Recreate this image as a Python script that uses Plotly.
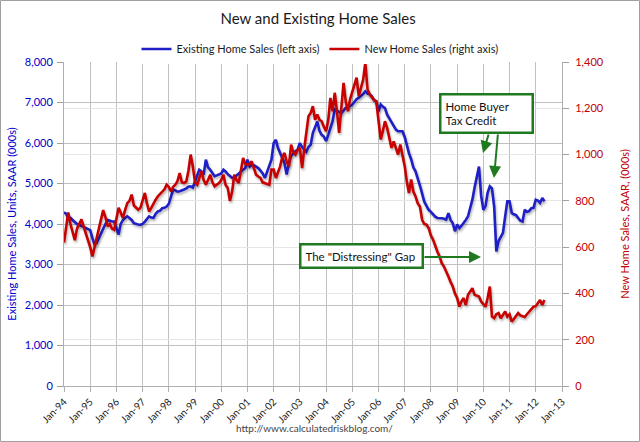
import plotly.graph_objects as go
import pandas as pd

# Monthly values, Jan 1994 - May 2012 (000s, SAAR)
existing_sales = [
    4290, 4250, 4150, 4150, 4100, 4050, 4000, 3980, 3950, 3920, 3900, 3870,  # 1994
    3850, 3650, 3500, 3530, 3650, 3740, 3900, 4000, 4100, 4080, 4060, 4060,  # 1995
    3900, 3740, 4000, 4100, 4150, 4190, 4150, 4100, 4020, 4000, 3990, 3980,  # 1996
    4000, 4060, 4120, 4190, 4160, 4150, 4250, 4310, 4330, 4390, 4400, 4430,  # 1997
    4500, 4680, 4850, 4830, 4800, 4810, 4840, 4850, 4880, 4920, 4930, 4900,  # 1998
    5050, 5200, 5340, 5300, 5220, 5590, 5400, 5340, 5250, 5180, 5200, 5220,  # 1999
    5250, 5340, 5300, 5230, 5180, 5140, 5150, 5200, 5260, 5300, 5340, 5380,  # 2000
    5590, 5420, 5460, 5450, 5420, 5380, 5320, 5250, 5140, 5300, 5450, 5590,  # 2001
    6000, 6080, 5880, 5750, 5670, 5500, 5220, 5500, 5680, 5750, 5800, 5840,  # 2002
    6000, 5900, 5830, 5780, 5900, 5960, 6250, 6400, 6530, 6300, 6200, 6160,  # 2003
    6050, 6200, 6400, 6540, 6830, 6800, 6780, 6740, 6800, 6870, 6900, 6910,  # 2004
    6950, 7030, 7080, 7120, 7160, 7210, 7280, 7220, 7200, 7150, 7060, 7030,  # 2005
    6780, 6950, 6900, 6860, 6700, 6600, 6500, 6410, 6330, 6290, 6290, 6290,  # 2006
    6150, 5900, 5750, 5600, 5400, 5300, 5150, 4950, 4750, 4550, 4450, 4350,  # 2007
    4300, 4230, 4180, 4150, 4150, 4140, 4130, 4110, 4270, 4100, 4020, 3820,  # 2008
    3990, 3900, 3950, 4020, 4100, 4190, 4400, 4600, 4900, 5150, 5420, 4700,  # 2009
    4350, 4450, 4770, 4930, 4880, 4430, 3320, 3580, 3700, 3780, 4190, 4560,  # 2010
    4560, 4270, 4240, 4220, 4150, 4080, 4060, 4350, 4300, 4320, 4390, 4400,  # 2011
    4600, 4580, 4520, 4640, 4560,                                            # 2012
]

new_sales = [
    620, 680, 750, 700, 660, 630, 680, 700, 720, 690, 660, 640,  # 1994
    600, 560, 600, 630, 680, 720, 760, 730, 690, 700, 680, 675,  # 1995
    730, 770, 750, 726, 760, 790, 800, 827, 780, 770, 762, 770,  # 1996
    800, 834, 790, 754, 770, 790, 805, 820, 830, 841, 850, 870,  # 1997
    860, 841, 860, 870, 885, 920, 880, 877, 884, 930, 1000, 950,  # 1998
    880, 870, 900, 928, 890, 870, 890, 913, 880, 863, 870, 877,  # 1999
    890, 913, 870, 856, 800, 840, 913, 890, 877, 930, 985, 960,  # 2000
    956, 960, 971, 940, 913, 905, 899, 880, 877, 872, 870, 935,  # 2001
    935, 899, 920, 949, 990, 1007, 970, 949, 1043, 1010, 1000, 1020,  # 2002
    1029, 942, 1020, 1100, 1166, 1180, 1209, 1150, 1173, 1150, 1144, 1120,  # 2003
    1101, 1150, 1245, 1187, 1267, 1187, 1094, 1202, 1310, 1230, 1187, 1240,  # 2004
    1274, 1300, 1332, 1252, 1290, 1324, 1397, 1281, 1260, 1245, 1235, 1230,  # 2005
    1150, 1065, 1100, 1144, 1115, 1070, 1029, 1057, 1030, 1000, 1043, 1000,  # 2006
    950, 880, 834, 892, 840, 819, 790, 776, 718, 700, 697, 683,  # 2007
    650, 632, 603, 580, 560, 530, 516, 490, 473, 450, 430, 400,  # 2008
    380, 343, 365, 380, 350, 394, 410, 423, 394, 390, 387, 365,  # 2009
    355, 343, 380, 430, 300, 293, 310, 315, 293, 310, 322, 300,  # 2010
    310, 278, 290, 307, 315, 305, 300, 298, 310, 322, 330, 343,  # 2011
    345, 358, 372, 350, 372,                                     # 2012
]

months = pd.date_range("1994-01-01", periods=len(existing_sales), freq="MS")

BLUE = "#1f1fc8"
RED = "#c80000"
GREEN = "#1f7a1f"
FONT = "Lato"

fig = go.Figure()

fig.add_trace(go.Scatter(
    x=months, y=existing_sales,
    mode="lines",
    line=dict(color=BLUE, width=2.6),
    name="Existing Home Sales (left axis)",
))

fig.add_trace(go.Scatter(
    x=months, y=new_sales,
    mode="lines",
    line=dict(color=RED, width=2.6),
    name="New Home Sales (right axis)",
    yaxis="y2",
))

# plot area is 64..562 px wide, 62..386 px tall
def px_x(p):
    return (p - 64) / 498.0

def px_y(p):
    return (386 - p) / 324.0

annotations = [
    # text boxes
    dict(xref="paper", yref="paper", x=px_x(439), y=px_y(93),
         xanchor="left", yanchor="top", align="left",
         text="Home Buyer<br>Tax Credit", showarrow=False,
         font=dict(family=FONT, size=11.5, color="#111111"),
         bgcolor="white", bordercolor=GREEN, borderwidth=2.5, borderpad=4,
         width=82),
    dict(xref="paper", yref="paper", x=px_x(299), y=px_y(243),
         xanchor="left", yanchor="top", align="left",
         text='The "Distressing" Gap', showarrow=False,
         font=dict(family=FONT, size=11.5, color="#111111"),
         bgcolor="white", bordercolor=GREEN, borderwidth=2.5, borderpad=4,
         width=112),
    # arrows
    dict(xref="paper", yref="paper", x=px_x(483), y=px_y(153),
         ax=6, ay=-20, text="",
         showarrow=True, arrowhead=2, arrowsize=1.2, arrowwidth=2, arrowcolor=GREEN),
    dict(xref="paper", yref="paper", x=px_x(494), y=px_y(178),
         ax=4, ay=-45, text="",
         showarrow=True, arrowhead=2, arrowsize=1.2, arrowwidth=2, arrowcolor=GREEN),
    dict(xref="paper", yref="paper", x=px_x(481), y=px_y(257),
         ax=-58, ay=0, text="",
         showarrow=True, arrowhead=2, arrowsize=1.2, arrowwidth=2, arrowcolor=GREEN),
    # source
    dict(xref="paper", yref="paper", x=px_x(314), y=px_y(428),
         xanchor="center", yanchor="middle",
         text="http://www.calculatedriskblog.com/", showarrow=False,
         font=dict(family=FONT, size=10, color="#444444")),
]

fig.update_layout(
    width=640, height=442,
    margin=dict(l=64, r=78, t=62, b=56, autoexpand=False),
    paper_bgcolor="white",
    plot_bgcolor="white",
    font=dict(family=FONT, size=11),
    title=dict(text="New and Existing Home Sales", x=0.497, xref="container",
               y=1 - 19 / 442, yref="container", yanchor="middle",
               font=dict(family=FONT, size=15, color="#1a1a1a")),
    legend=dict(orientation="h", x=px_x(320), xanchor="center",
                y=px_y(49), yanchor="middle", itemwidth=30,
                font=dict(family=FONT, size=11, color="#1a1a1a")),
    xaxis=dict(
        type="date",
        range=["1994-01-01", "2013-01-01"],
        dtick="M12", tick0="1994-01-01", tickformat="%b-%y",
        tickangle=-45, ticks="outside", ticklen=5, tickcolor="#b0b0b0",
        showgrid=True, gridcolor="#c0c0c0", gridwidth=1,
        showline=True, linecolor="#b0b0b0",
        tickfont=dict(family=FONT, size=10, color="#1a1a1a"),
        zeroline=False,
    ),
    yaxis=dict(
        range=[0, 8000], dtick=1000, tickformat=",",
        ticks="outside", ticklen=6, tickcolor="#a0a0a0",
        ticklabelstandoff=2,
        showgrid=True, gridcolor="#c0c0c0",
        showline=True, linecolor="#b0b0b0",
        tickfont=dict(family=FONT, size=11, color="#0000cc"),
        title=dict(text="Existing Home Sales, Units, SAAR (000s)",
                   font=dict(family=FONT, size=11, color="#0000cc"), standoff=5),
        zeroline=False,
    ),
    yaxis2=dict(
        range=[0, 1400], dtick=200, tickformat=",",
        overlaying="y", side="right",
        ticks="outside", ticklen=6, tickcolor="#a0a0a0",
        ticklabelstandoff=4,
        showgrid=True, gridcolor="#e6e6e6",
        showline=True, linecolor="#b0b0b0",
        tickfont=dict(family=FONT, size=11, color="#c00000"),
        title=dict(text="New Home Sales, SAAR, (000s)",
                   font=dict(family=FONT, size=11, color="#c00000"), standoff=18),
        zeroline=False,
    ),
    annotations=annotations,
    shapes=[dict(type="rect", xref="paper", yref="paper",
                 x0=px_x(0.5), x1=px_x(639.5), y0=px_y(441.5), y1=px_y(0.5),
                 line=dict(color="#a0a0a0", width=1), layer="below")],
)

# drop the default body margin and give the lines the soft shadow of the original
page_js = """
document.body.style.margin = '0';
document.querySelectorAll('.scatterlayer .js-line').forEach(function (p) {
    p.style.filter = 'drop-shadow(1.5px 2px 1.2px rgba(0,0,0,0.3))';
});
"""

fig.write_html("out.html", config={"displayModeBar": False}, post_script=page_js)
